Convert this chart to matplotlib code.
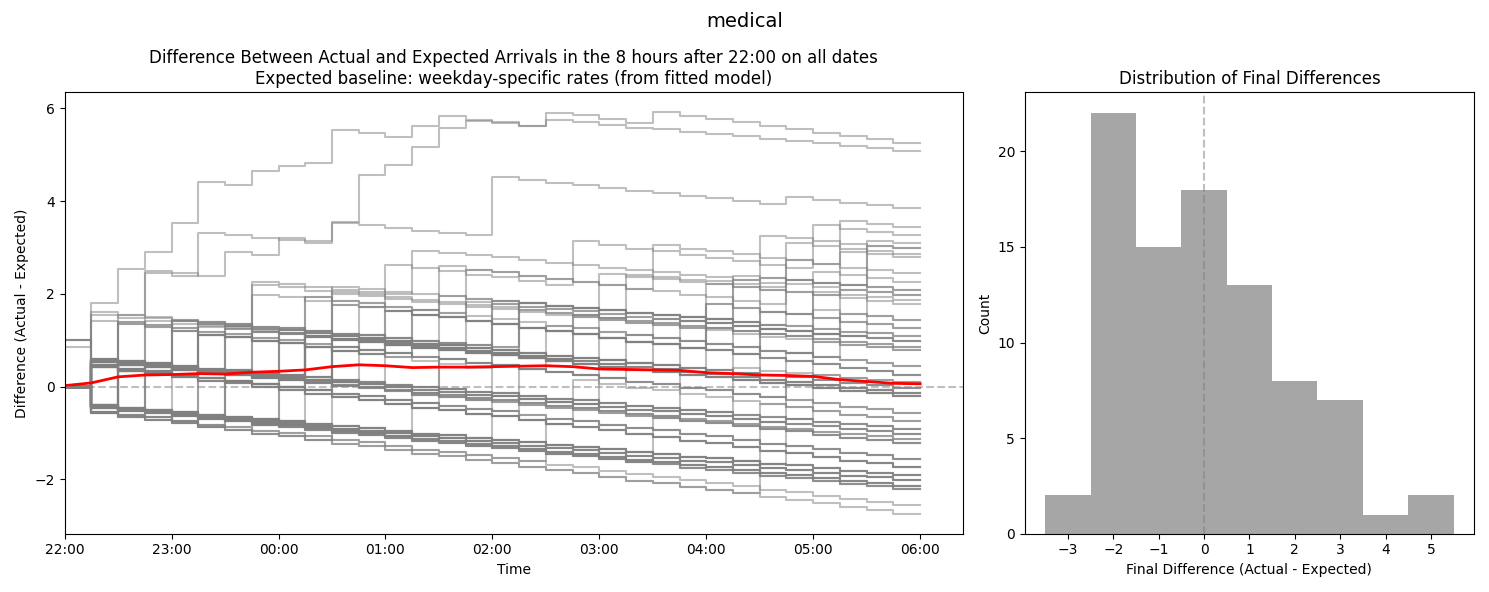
import datetime as dt
import numpy as np
import matplotlib
matplotlib.use("Agg")
import matplotlib.pyplot as plt
import matplotlib.dates as mdates

start = dt.datetime(2024, 1, 1, 22, 0)
slot_hours = np.arange(0, 8.25, 0.25)  # 15-min slot edges, 22:00 -> 06:00

# cumulative share of the expected arrivals reached in each 15-min slot
expected_shape = [0.00, 0.21, 0.24, 0.26, 0.29, 0.32, 0.34, 0.37, 0.39, 0.42, 0.45,
                  0.47, 0.50, 0.53, 0.55, 0.58, 0.60, 0.63, 0.66, 0.68, 0.71, 0.74,
                  0.76, 0.79, 0.81, 0.84, 0.87, 0.89, 0.92, 0.95, 0.97, 1.00]
# expected arrivals over the whole night, per weekday group
expected_total = {"A": 2.74, "B": 2.56, "C": 2.21, "D": 2.14, "E": 2.02, "F": 1.91}

# one entry per date: weekday group, slots with an arrival (or (slot, amount))
night_lines = [
    ("A", []), ("B", []), ("C", []), ("C", []), ("C", []),
    ("D", []), ("D", []), ("D", []), ("D", []),
    ("E", []), ("E", []), ("E", []), ("E", []),
    ("F", []), ("F", []), ("F", []), ("F", []),
    ("A", [1]), ("B", [1]), ("C", [1]), ("E", [1]), ("F", [2]), ("A", [2]),
    ("D", [3]), ("B", [5]), ("E", [6]), ("C", [8]), ("F", [9]), ("A", [10]),
    ("D", [13]), ("E", [16]), ("B", [18]), ("C", [22]), ("A", [26]), ("F", [27]),
    ("C", [1, 9]), ("D", [1, 14]), ("E", [1, 20]), ("A", [1, 26]), ("C", [2, 10]),
    ("D", [1, 5]), ("B", [2, 17]), ("E", [3, 12]), ("C", [1, 7]), ("D", [4, 9]),
    ("F", [1, 25]), ("A", [6, 19]), ("C", [1, 16]), ("D", [2, 23]), ("E", [8, 27]),
    ("B", [1, 10]), ("F", [5, 28]),
    ("A", [1, 2, 10]), ("E", [1, 6, 15]), ("C", [1, 9, 20]), ("A", [0, 4, 13]),
    ("D", [1, 8, 24]), ("F", [2, 9, 17]), ("E", [1, 3, 26]), ("B", [1, 10, 21]),
    ("C", [2, 7, 28]), ("A", [1, 5, 12]), ("D", [1, 9, 19]), ("E", [3, 10, 25]),
    ("F", [1, 2, 16]), ("B", [6, 14, 27]),
    ("A", [1, 5, 16, 24]), ("B", [1, 9, 18, 29]), ("E", [1, 8, 23, 30]),
    ("F", [0, 10, 14, 27]), ("C", [1, 3, 7, 20]), ("A", [1, 6, 12, 26]),
    ("D", [2, 9, 17, 28]), ("B", [1, 9, 13, 28]), ("E", [1, 11, 22, 29]),
    ("F", [1, 4, 10, 25]),
    ("E", [1, 4, 16, 25, 30]), ("C", [1, 6, 19, 24, 29]), ("A", [0, 5, 11, 24, 28]),
    ("D", [1, 8, 10, 21, 27]), ("B", [1, 2, 9, 15, 27]), ("E", [1, 4, 7, 13, 26]),
    ("F", [1, 5, 17, 26, 30]),
    ("D", [(1, 2.0), (3, 1.0), (5, 1.0), (10, 0.5), (16, 1.3), (27, 0.2)]),
    ("A", [0, 1, 7, 12, 19, 28]), ("B", [1, 2, 9, 14, 22, 29]),
    ("F", [(1, 2.0), (3, 1.0), (6, 0.55), (8, 0.39), (10, 0.47), (11, 1.05),
           (12, 0.28), (13, 0.44), (14, 0.44), (15, 0.21), (18, 0.17)]),
    ("A", [(0, 0.85), (1, 1.53), (2, 0.82), (3, 0.42), (4, 0.71), (5, 0.95),
           (7, 0.38), (8, 0.17), (9, 0.15), (10, 0.78), (13, 0.32), (14, 0.26),
           (18, 0.37), (22, 0.29)]),
]

# average difference over all dates (red line)
mean_diff = [0.02, 0.08, 0.21, 0.25, 0.26, 0.28, 0.27, 0.31, 0.33, 0.36, 0.43,
             0.47, 0.45, 0.41, 0.42, 0.42, 0.43, 0.44, 0.45, 0.43, 0.38, 0.37,
             0.36, 0.35, 0.30, 0.28, 0.25, 0.24, 0.22, 0.15, 0.11, 0.07, 0.06]

hist_bins = np.arange(-3.5, 5.6, 1.0)


def build_trace(group, jumps):
    step = np.zeros(len(expected_shape))
    for j in jumps:
        slot, amount = j if isinstance(j, tuple) else (j, 1.0)
        step[slot] += amount
    vals = np.cumsum(step) - expected_total[group] * np.array(expected_shape)
    return np.append(vals, vals[-1])


times = [start + dt.timedelta(hours=float(h)) for h in slot_hours]

fig, (ax1, ax2) = plt.subplots(1, 2, figsize=(14.89, 5.92),
                               gridspec_kw={"width_ratios": [2, 1]})

finals = []
for group, jumps in night_lines:
    trace = build_trace(group, jumps)
    finals.append(trace[-1])
    ax1.plot(times, trace, drawstyle="steps-post", color="gray", alpha=0.5, linewidth=1.5)

ax1.plot(times, mean_diff, color="red", linewidth=2)
ax1.axhline(0, color="gray", linestyle="--", alpha=0.5)
ax1.set_xlim(start, start + dt.timedelta(hours=8.4))
ax1.xaxis.set_major_locator(mdates.HourLocator(interval=1))
ax1.xaxis.set_major_formatter(mdates.DateFormatter("%H:%M"))
ax1.set_xlabel("Time")
ax1.set_ylabel("Difference (Actual - Expected)")
ax1.set_title("Difference Between Actual and Expected Arrivals in the 8 hours after 22:00 on all dates\n"
              "Expected baseline: weekday-specific rates (from fitted model)")

ax2.hist(finals, bins=hist_bins, color="gray", alpha=0.7)
ax2.axvline(0, color="gray", linestyle="--", alpha=0.5)
ax2.set_xticks(range(-3, 6))
ax2.set_xlabel("Final Difference (Actual - Expected)")
ax2.set_ylabel("Count")
ax2.set_title("Distribution of Final Differences")

fig.suptitle("medical", fontsize=14)
plt.tight_layout()
plt.savefig("out.png", dpi=100)
